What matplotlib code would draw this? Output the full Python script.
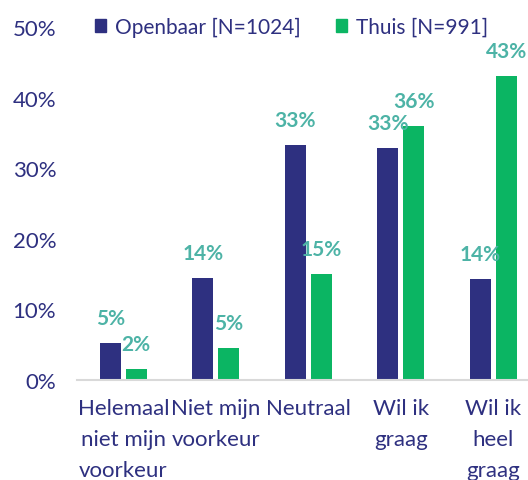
import matplotlib.pyplot as plt
from matplotlib.patches import Patch
import numpy as np

plt.rcParams['font.family'] = ['Lato', 'DejaVu Sans']

# Data
categories = ['Helemaal\nniet mijn\nvoorkeur', 'Niet mijn\nvoorkeur', 'Neutraal',
              'Wil ik\ngraag', 'Wil ik\nheel\ngraag']
openbaar = [5.2, 14.4, 33.3, 32.8, 14.3]
thuis = [1.6, 4.5, 15.0, 36.0, 43.0]
series_names = ['Openbaar [N=1024]', 'Thuis [N=991]']
yticks = [0, 10, 20, 30, 40, 50]

navy = '#2E3080'
green = '#0BB563'
teal = '#4DB3A6'

fig = plt.figure(figsize=(5.28, 4.81), dpi=100)
ax = fig.add_axes([77 / 528, 100 / 481, 462.5 / 528, 353 / 481])

x = np.arange(len(categories))
w = 0.227
off = 0.141
b1 = ax.bar(x - off, openbaar, w, color=navy)
b2 = ax.bar(x + off, thuis, w, color=green)

for bars, vals in [(b1, openbaar), (b2, thuis)]:
    for b, v in zip(bars, vals):
        ax.annotate(f'{int(v + 0.5)}%', (b.get_x() + b.get_width() / 2, v),
                    xytext=(0, 18), textcoords='offset points',
                    ha='center', va='center', color=teal,
                    fontsize=15, fontweight='bold', clip_on=False)

ax.set_xlim(-0.5, len(categories) - 0.5)
ax.set_ylim(0, 50)
ax.set_yticks(yticks)
ax.set_yticklabels([f'{t}%' for t in yticks])
ax.set_xticks(x)
ax.set_xticklabels(categories, linespacing=1.7)
ax.tick_params(axis='both', length=0, colors=navy, labelsize=16)
ax.tick_params(axis='y', pad=15)
ax.tick_params(axis='x', pad=13)

for s in ['left', 'right', 'top']:
    ax.spines[s].set_visible(False)
ax.spines['bottom'].set_color('#D9D9D9')
ax.spines['bottom'].set_linewidth(1.5)

handles = [Patch(color=navy), Patch(color=green)]
leg = fig.legend(handles, series_names, loc='center left',
                 bbox_to_anchor=(95 / 528, 1 - 28 / 481), ncol=2, frameon=False,
                 borderaxespad=0, borderpad=0, handlelength=0.55, handleheight=0.55,
                 handletextpad=0.4, columnspacing=1.7, fontsize=15)
for t in leg.get_texts():
    t.set_color(navy)

fig.savefig('out.png', dpi=100)
